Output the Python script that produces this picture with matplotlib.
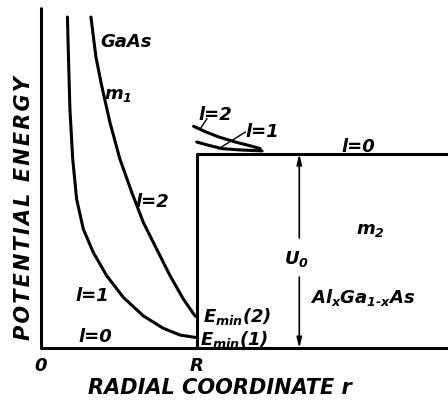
"""Effective radial potential of a spherical GaAs well in AlxGa1-xAs (schematic)."""
import matplotlib
matplotlib.use("Agg")
import matplotlib.pyplot as plt

plt.rcParams["mathtext.fontset"] = "custom"
plt.rcParams["mathtext.rm"] = "DejaVu Sans:italic:bold"
plt.rcParams["mathtext.it"] = "DejaVu Sans:italic:bold"
plt.rcParams["mathtext.sf"] = "DejaVu Sans:italic:bold"

# r in units of R, energy in units of U0
R = 1.0
U0 = 1.0
R_MAX = 2.614
E_TOP = 1.758

# centrifugal terms inside the well (GaAs, m1)
well_l1_r = [0.170, 0.177, 0.186, 0.204, 0.229, 0.272, 0.336, 0.422, 0.529, 0.657,
             0.785, 0.893, 0.989, 1.0]
well_l1_E = [1.706, 1.490, 1.232, 0.974, 0.768, 0.613, 0.493, 0.373, 0.261, 0.166,
             0.102, 0.067, 0.055, 0.054]
well_l2_r = [0.321, 0.353, 0.390, 0.443, 0.507, 0.583, 0.657, 0.743, 0.829, 0.914,
             0.989, 1.0]
well_l2_E = [1.706, 1.500, 1.352, 1.163, 0.974, 0.803, 0.648, 0.510, 0.373, 0.253,
             0.166, 0.162]

# same terms above the barrier (AlGaAs, m2)
bar_l1_r = [1.0, 1.077, 1.162, 1.278, 1.420]
bar_l1_E = [1.062, 1.045, 1.028, 1.021, 1.016]
bar_l2_r = [0.98, 1.062, 1.141, 1.248, 1.355, 1.408]
bar_l2_E = [1.143, 1.113, 1.088, 1.062, 1.040, 1.028]

LW = 2.2
TXT = dict(fontstyle="italic", fontweight="bold", family="DejaVu Sans")

fig = plt.figure(figsize=(4.48, 4.02), dpi=100)
ax = fig.add_axes([0, 0, 1, 1])
ax.set_xlim(-0.263, R_MAX)
ax.set_ylim(-0.273, 1.799)
ax.axis("off")

# axes, well wall and barrier top
ax.plot([0, 0, R_MAX], [E_TOP, 0, 0], color="k", lw=LW, solid_capstyle="butt")
ax.plot([R, R, R_MAX], [0, U0, U0], color="k", lw=LW, solid_capstyle="butt")

for r, E in [(well_l1_r, well_l1_E), (well_l2_r, well_l2_E),
             (bar_l1_r, bar_l1_E), (bar_l2_r, bar_l2_E)]:
    ax.plot(r, E, color="k", lw=LW, solid_capstyle="round", solid_joinstyle="round")

# leaders for the barrier labels
ax.plot([1.141, 1.312], [1.027, 1.113], color="k", lw=1.0)
ax.plot([1.023, 1.066], [1.130, 1.182], color="k", lw=1.0)

# U0 double arrow with a gap for its label
x_u = 1.659
ap = dict(arrowstyle="-|>,head_length=0.6,head_width=0.15", color="k", lw=1.2,
          shrinkA=0, shrinkB=0)
ax.annotate("", xy=(x_u, U0), xytext=(x_u, 0.567), arrowprops=ap)
ax.annotate("", xy=(x_u, 0), xytext=(x_u, 0.366), arrowprops=ap)

fs = 13
ax.text(0.379, 1.582, "GaAs", fontsize=fs, ha="left", va="center", **TXT)
ax.text(0.495, 1.309, r"$m_1$", fontsize=fs, ha="center", va="center")
ax.text(0.713, 0.758, "l=2", fontsize=fs, ha="center", va="center", **TXT)
ax.text(0.328, 0.273, "l=1", fontsize=fs, ha="center", va="center", **TXT)
ax.text(0.347, 0.062, "l=0", fontsize=fs, ha="center", va="center", **TXT)
ax.text(1.118, 1.206, "l=2", fontsize=fs, ha="center", va="center", **TXT)
ax.text(1.419, 1.119, "l=1", fontsize=fs, ha="center", va="center", **TXT)
ax.text(2.036, 1.041, "l=0", fontsize=fs, ha="center", va="center", **TXT)
ax.text(1.040, 0.170, r"$E_{min}(2)$", fontsize=fs, ha="left", va="center")
ax.text(1.021, 0.048, r"$E_{min}(1)$", fontsize=fs, ha="left", va="center")
ax.text(1.644, 0.464, r"$U_0$", fontsize=fs, ha="center", va="center")
ax.text(2.113, 0.613, r"$m_2$", fontsize=fs, ha="center", va="center")
ax.text(1.728, 0.268, r"$Al_xGa_{1\text{-}x}As$", fontsize=fs, ha="left", va="center")

ax.text(0.0, -0.090, "0", fontsize=fs, ha="center", va="center", **TXT)
ax.text(R, -0.090, "R", fontsize=fs, ha="center", va="center", **TXT)
ax.text(1.15, -0.200, "RADIAL COORDINATE r", fontsize=15, ha="center", va="center", **TXT)
ylabel = "\u200a".join("POTENTIAL ENERGY")
ax.text(-0.109, 0.727, ylabel, fontsize=15, rotation=90,
        ha="center", va="center", **TXT)

fig.savefig("out.png", dpi=100)
